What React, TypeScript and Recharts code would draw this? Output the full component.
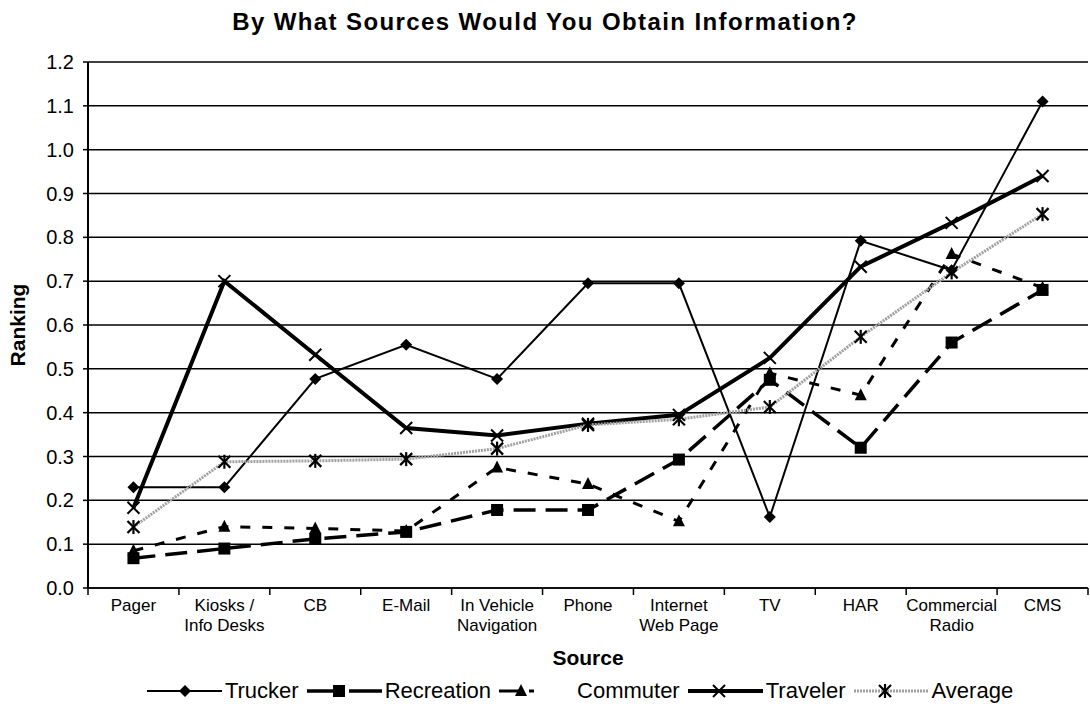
import React from "react";
import {
  LineChart,
  Line,
  XAxis,
  YAxis,
  CartesianGrid,
  Legend,
} from "recharts";

const sources = [
  ["Pager"],
  ["Kiosks /", "Info Desks"],
  ["CB"],
  ["E-Mail"],
  ["In Vehicle", "Navigation"],
  ["Phone"],
  ["Internet", "Web Page"],
  ["TV"],
  ["HAR"],
  ["Commercial", "Radio"],
  ["CMS"],
];

const trucker = [0.23, 0.23, 0.477, 0.555, 0.477, 0.695, 0.695, 0.162, 0.792, 0.725, 1.11];
const recreation = [0.068, 0.09, 0.112, 0.128, 0.178, 0.178, 0.293, 0.475, 0.32, 0.56, 0.68];
const commuter = [0.085, 0.14, 0.136, 0.13, 0.275, 0.237, 0.152, 0.49, 0.44, 0.762, 0.685];
const traveler = [0.183, 0.7, 0.532, 0.365, 0.348, 0.375, 0.395, 0.525, 0.733, 0.833, 0.94];
const average = [0.139, 0.288, 0.29, 0.294, 0.318, 0.372, 0.385, 0.413, 0.573, 0.72, 0.853];

const yTicks = [0, 0.1, 0.2, 0.3, 0.4, 0.5, 0.6, 0.7, 0.8, 0.9, 1.0, 1.1, 1.2];

// category i sits at i + 0.5; integers mark the boundaries
const xTicks: number[] = [];
for (let i = 0; i <= sources.length * 2; i++) xTicks.push(i / 2);

const data = sources.map((s, i) => ({
  x: i + 0.5,
  trucker: trucker[i],
  recreation: recreation[i],
  commuter: commuter[i],
  traveler: traveler[i],
  average: average[i],
}));

const FONT = "Arial, 'Liberation Sans', sans-serif";

type Marker = "diamond" | "square" | "triangle" | "cross" | "star";

function drawMarker(kind: Marker, cx: number, cy: number, key?: string) {
  switch (kind) {
    case "diamond":
      return (
        <polygon
          key={key}
          points={`${cx},${cy - 6} ${cx + 6},${cy} ${cx},${cy + 6} ${cx - 6},${cy}`}
          fill="#000"
        />
      );
    case "square":
      return <rect key={key} x={cx - 6} y={cy - 6} width={12} height={12} fill="#000" />;
    case "triangle":
      return (
        <polygon
          key={key}
          points={`${cx},${cy - 7} ${cx + 6},${cy + 5} ${cx - 6},${cy + 5}`}
          fill="#000"
        />
      );
    case "cross":
      return (
        <g key={key} stroke="#000" strokeWidth={2}>
          <line x1={cx - 6} y1={cy - 6} x2={cx + 6} y2={cy + 6} />
          <line x1={cx - 6} y1={cy + 6} x2={cx + 6} y2={cy - 6} />
        </g>
      );
    default:
      return (
        <g key={key} stroke="#000" strokeWidth={2.2}>
          <line x1={cx - 6} y1={cy - 6} x2={cx + 6} y2={cy + 6} />
          <line x1={cx - 6} y1={cy + 6} x2={cx + 6} y2={cy - 6} />
          <line x1={cx} y1={cy - 7} x2={cx} y2={cy + 7} />
        </g>
      );
  }
}

const markerDot = (kind: Marker, name: string) => (p: any) =>
  drawMarker(kind, p.cx, p.cy, `${name}-${p.index}`);

const series = [
  { key: "trucker", name: "Trucker", marker: "diamond" as Marker, color: "#000", width: 2, dash: undefined, legendDash: undefined, legendMark: 38 },
  { key: "recreation", name: "Recreation", marker: "square" as Marker, color: "#000", width: 3.5, dash: "22 10", legendDash: "36 6", legendMark: 32 },
  { key: "commuter", name: "Commuter", marker: "triangle" as Marker, color: "#000", width: 3, dash: "10 12", legendDash: "20 10 5 50", legendMark: 22 },
  { key: "traveler", name: "Traveler", marker: "cross" as Marker, color: "#000", width: 4, dash: undefined, legendDash: undefined, legendMark: 31 },
  { key: "average", name: "Average", marker: "star" as Marker, color: "#a0a0a0", width: 3, dash: "2 1", legendDash: "2 1", legendMark: 31 },
];

function SourceTick(props: any) {
  const { x, y, payload } = props;
  const v = payload.value as number;
  if (Number.isInteger(v)) {
    return <line x1={x} x2={x} y1={y} y2={y + 7} stroke="#000" strokeWidth={1.5} />;
  }
  const label = sources[Math.floor(v)];
  return (
    <text x={x} y={y + 23} textAnchor="middle" fontSize={17} fontFamily={FONT} fill="#000">
      {label.map((l, i) => (
        <tspan key={i} x={x} dy={i === 0 ? 0 : 20}>
          {l}
        </tspan>
      ))}
    </text>
  );
}

function LegendContent() {
  return (
    <div
      style={{
        display: "flex",
        justifyContent: "center",
        alignItems: "center",
        fontFamily: FONT,
        fontSize: 22,
        color: "#000",
        paddingLeft: 80,
      }}
    >
      {series.map((s) => (
        <span key={s.key} style={{ display: "flex", alignItems: "center", marginRight: 8 }}>
          <svg width={75} height={20}>
            <line
              x1={0}
              x2={75}
              y1={10}
              y2={10}
              stroke={s.color}
              strokeWidth={s.width}
              strokeDasharray={s.legendDash}
            />
            {drawMarker(s.marker, s.legendMark, 10)}
          </svg>
          <span style={{ marginLeft: 3 }}>{s.name}</span>
        </span>
      ))}
    </div>
  );
}

export default function App() {
  return (
    <div style={{ position: "absolute", left: 0, top: 0, width: 1090, height: 712, background: "#fff" }}>
      <div
        style={{
          position: "absolute",
          top: 8,
          left: 0,
          width: 1090,
          textAlign: "center",
          fontFamily: FONT,
          fontWeight: "bold",
          fontSize: 24,
          letterSpacing: 1.4,
        }}
      >
        By What Sources Would You Obtain Information?
      </div>
      <LineChart
        width={1090}
        height={712}
        data={data}
        margin={{ top: 62, right: 2, bottom: 4, left: 0 }}
      >
        <CartesianGrid horizontal vertical={false} stroke="#000" strokeWidth={1.5} />
        <XAxis
          dataKey="x"
          type="number"
          domain={[0, sources.length]}
          ticks={xTicks}
          interval={0}
          tick={<SourceTick />}
          tickLine={false}
          tickSize={0}
          tickMargin={0}
          height={80}
          axisLine={{ stroke: "#000", strokeWidth: 1.5 }}
          label={{
            value: "Source",
            position: "insideBottom",
            offset: 3,
            style: { fontFamily: FONT, fontWeight: "bold", fontSize: 21, fill: "#000" },
          }}
        />
        <YAxis
          domain={[0, 1.2]}
          ticks={yTicks}
          interval={0}
          width={88}
          tickFormatter={(v: number) => v.toFixed(1)}
          tick={{ fontFamily: FONT, fontSize: 20, fill: "#000" }}
          tickSize={5}
          tickMargin={9}
          tickLine={{ stroke: "#000", strokeWidth: 1.5 }}
          axisLine={{ stroke: "#000", strokeWidth: 2 }}
          label={{
            value: "Ranking",
            angle: -90,
            position: "insideLeft",
            offset: 18,
            style: { fontFamily: FONT, fontWeight: "bold", fontSize: 21, fill: "#000", textAnchor: "middle" },
          }}
        />
        <Legend
          verticalAlign="bottom"
          height={40}
          content={<LegendContent />}
          wrapperStyle={{ top: 678, bottom: "auto" }}
        />
        {series.map((s) => (
          <Line
            key={s.key}
            dataKey={s.key}
            name={s.name}
            stroke={s.color}
            strokeWidth={s.width}
            strokeDasharray={s.dash}
            dot={markerDot(s.marker, s.key)}
            activeDot={false}
            isAnimationActive={false}
          />
        ))}
      </LineChart>
    </div>
  );
}
